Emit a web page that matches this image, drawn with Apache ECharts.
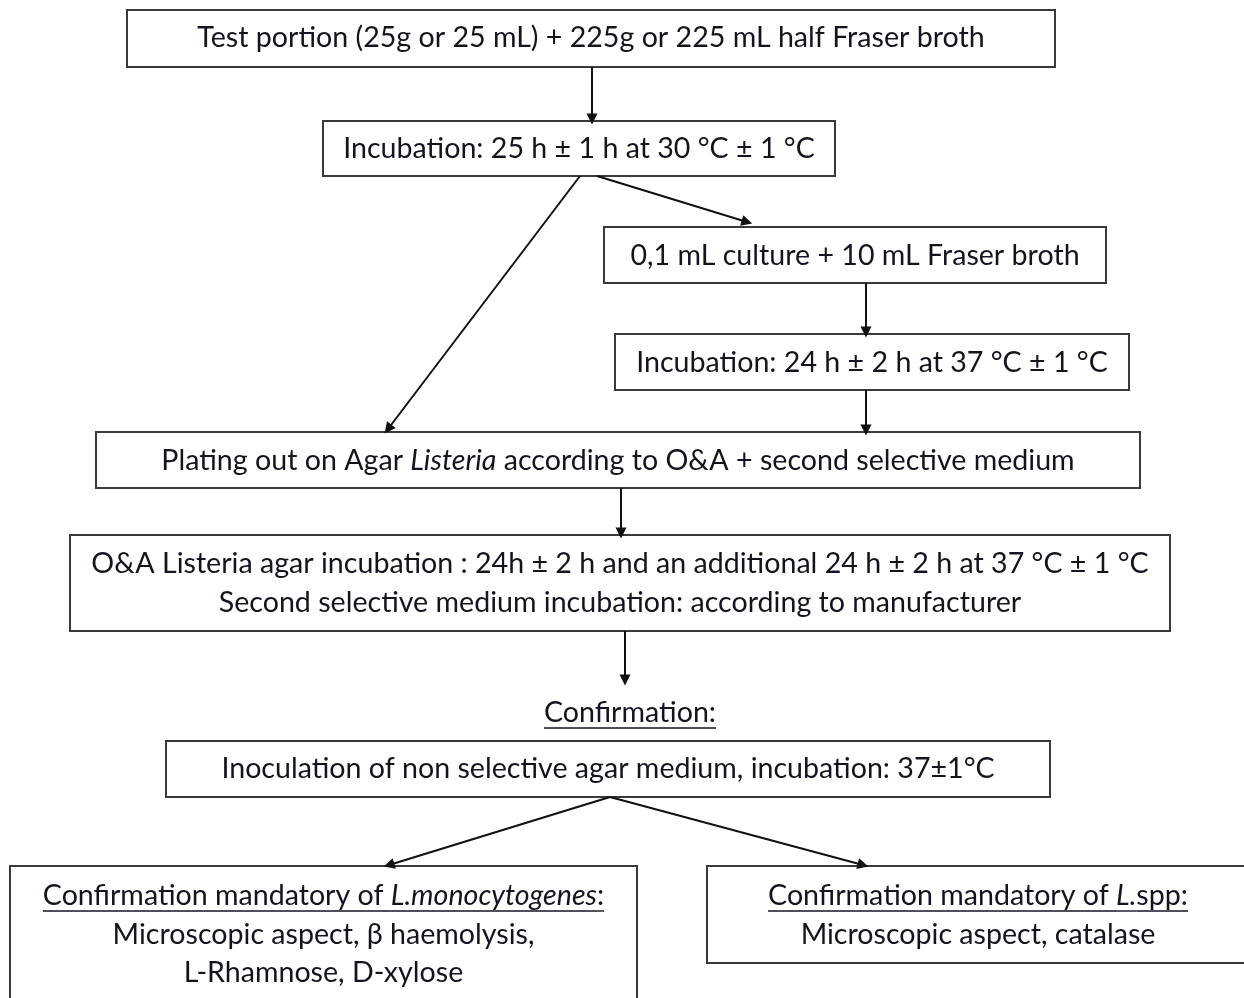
<!DOCTYPE html>
<html>
<head>
<meta charset="utf-8">
<script src="https://cdn.jsdelivr.net/npm/echarts@6/dist/echarts.min.js"></script>
<style>
  html, body { margin: 0; padding: 0; background: #fff; }
  #main { width: 1244px; height: 998px; }
</style>
</head>
<body>
<div id="main"></div>
<script>
// step texts, one entry per line; {i|..} italic, {u|..} underline, {ui|..} both
const stepTexts = [
  ['Test portion (25g or 25 mL) + 225g or 225 mL half Fraser broth'],
  ['Incubation: 25 h ± 1 h at 30 °C ± 1 °C'],
  ['0,1 mL culture + 10 mL Fraser broth'],
  ['Incubation: 24 h ± 2 h at 37 °C ± 1 °C'],
  ['Plating out on Agar {i|Listeria} according to O&A + second selective medium'],
  ['O&A Listeria agar incubation : 24h ± 2 h and an additional 24 h ± 2 h at 37 °C ± 1 °C',
   'Second selective medium incubation: according to manufacturer'],
  ['{u|Confirmation:}'],
  ['Inoculation of non selective agar medium, incubation: 37±1°C'],
  ['{u|Confirmation mandatory of }{ui|L.monocytogenes}{u|:}',
   'Microscopic aspect, β haemolysis,',
   'L-Rhamnose, D-xylose'],
  ['{u|Confirmation mandatory of }{ui|L.}{u|spp:}',
   'Microscopic aspect, catalase']
];
// which steps have a frame
const stepFramed = [true, true, true, true, true, true, false, true, true, true];
// links between steps: [from, to]
const stepLinks = [[0, 1], [1, 4], [1, 2], [2, 3], [3, 4], [4, 5], [5, 7], [7, 8], [7, 9]];

// layout (pixels): box [x0, y0, x1, y1]
const boxLayout = [
  [127, 10, 1055, 67],
  [323, 121, 835, 176],
  [604, 227, 1106, 283],
  [615, 334, 1129, 390],
  [96, 432, 1140, 488],
  [70, 535, 1170, 631],
  [430, 695, 830, 732],
  [166, 741, 1050, 797],
  [10, 866, 637, 1020],
  [707, 866, 1249, 963]
];
// line centres (y) per step
const lineY = [[38], [149], [256], [363], [461], [564, 603], [713], [769], [896, 935, 973], [896, 935]];
// arrow anchors [x0, y0, x1, y1], same order as stepLinks
const linkLayout = [
  [592, 67, 592, 119],
  [580, 176, 388, 429],
  [597, 176, 747, 222],
  [866, 283, 866, 332],
  [866, 390, 866, 430],
  [621, 488, 621, 533],
  [625, 631, 625, 680],
  [610, 797, 389, 865],
  [610, 797, 863, 865]
];

const FONT = 'Lato, "Open Sans", sans-serif';
const FS = 28.6;
const TXT = '#141420';

const measureCtx = document.createElement('canvas').getContext('2d');
function parseLine(s) {
  const segs = [];
  const re = /\{(\w+)\|([^}]*)\}|([^{]+)/g;
  let m;
  while ((m = re.exec(s))) {
    if (m[3] !== undefined) segs.push({ t: m[3], i: false, u: false });
    else segs.push({ t: m[2], i: m[1].indexOf('i') >= 0, u: m[1].indexOf('u') >= 0 });
  }
  return segs;
}
function fontOf(seg) {
  return (seg.i ? 'italic ' : '') + FS + 'px ' + FONT;
}

let chartDom = document.getElementById('main');
let myChart = echarts.init(chartDom);

function renderStep(params, api) {
  const k = api.value(0);
  const b = boxLayout[k];
  const p0 = api.coord([b[0], b[1]]);
  const p1 = api.coord([b[2], b[3]]);
  const children = [];
  if (stepFramed[k]) {
    children.push({
      type: 'rect',
      shape: { x: p0[0], y: p0[1], width: p1[0] - p0[0], height: p1[1] - p0[1] },
      style: { fill: '#fff', stroke: '#3a3a3a', lineWidth: 2 }
    });
  }
  const cx = (p0[0] + p1[0]) / 2;
  stepTexts[k].forEach(function (line, j) {
    const segs = parseLine(line);
    let total = 0;
    segs.forEach(function (sg) {
      measureCtx.font = fontOf(sg);
      sg.w = measureCtx.measureText(sg.t).width;
      total += sg.w;
    });
    const y = api.coord([0, lineY[k][j]])[1];
    let x = cx - total / 2;
    segs.forEach(function (sg) {
      children.push({
        type: 'text',
        style: {
          x: x, y: y, text: sg.t, fill: TXT,
          font: fontOf(sg), textAlign: 'left', textVerticalAlign: 'middle'
        }
      });
      if (sg.u) {
        children.push({
          type: 'line',
          shape: { x1: x, y1: y + 15, x2: x + sg.w, y2: y + 15 },
          style: { stroke: TXT, lineWidth: 1.4 }
        });
      }
      x += sg.w;
    });
  });
  return { type: 'group', children: children };
}

let option = {
  animation: false,
  grid: { left: 0, right: 0, top: 0, bottom: 0 },
  xAxis: { type: 'value', min: 0, max: 1244, show: false },
  yAxis: { type: 'value', min: 0, max: 998, inverse: true, show: false },
  series: [
    {
      type: 'custom',
      renderItem: renderStep,
      clip: false,
      data: stepTexts.map(function (t, i) { return [i]; }),
      z: 1
    },
    {
      type: 'lines',
      coordinateSystem: 'cartesian2d',
      symbol: ['none', 'triangle'],
      symbolSize: 11,
      lineStyle: { color: '#111', width: 2, opacity: 1 },
      data: stepLinks.map(function (l, i) {
        const c = linkLayout[i];
        return { coords: [[c[0], c[1]], [c[2], c[3]]] };
      }),
      z: 2
    }
  ]
};
option && myChart.setOption(option);
</script>
</body>
</html>
